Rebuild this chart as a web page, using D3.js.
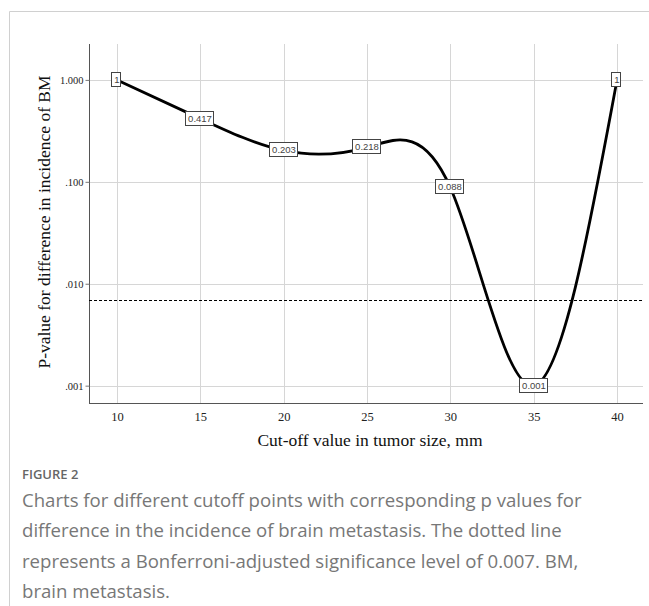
<!DOCTYPE html>
<html>
<head>
<meta charset="utf-8">
<script src="https://cdn.jsdelivr.net/npm/d3@7"></script>
<style>
    body { margin: 0; background: #fff; }
    svg { display: block; }
</style>
</head>
<body>
<svg width="649" height="606"></svg>
<script>
"use strict"

// cut-off values (mm) and their p-values
const cutoffs = [10, 15, 20, 25, 30, 35, 40]
const pValues = [1, 0.417, 0.203, 0.218, 0.088, 0.001, 1]
const pLabels = ["1", "0.417", "0.203", "0.218", "0.088", "0.001", "1"]

const xTicks = [10, 15, 20, 25, 30, 35, 40]
const yTicks = [1, 0.1, 0.01, 0.001]
const yTickLabels = ["1.000", ".100", ".010", ".001"]
const bonferroni = 0.007

const captionTitle = "FIGURE 2"
const captionLines = [
    "Charts for different cutoff points with corresponding p values for",
    "difference in the incidence of brain metastasis. The dotted line",
    "represents a Bonferroni-adjusted significance level of 0.007. BM,",
    "brain metastasis."
]

const SERIF = "'Liberation Serif', 'Times New Roman', serif"
const SANS = "'Liberation Sans', Arial, sans-serif"

const svg = d3.select("svg")

// outer figure frame (top + left only)
svg.append("path")
    .attr("d", "M9.5,606 V11.5 H649")
    .attr("fill", "none")
    .attr("stroke", "#d0d0d0")

const plotLeft = 89, plotRight = 643, plotTop = 44, plotBottom = 403

const x = d3.scaleLinear().domain([8.32, 41.56]).range([plotLeft, plotRight])
const y = d3.scaleLog().domain([0.000676, 2.25]).range([plotBottom, plotTop])

const data = cutoffs.map((c, i) => ({ x: c, p: pValues[i], label: pLabels[i] }))

// grid
const grid = svg.append("g").attr("stroke", "#d6d6d6").attr("stroke-width", 1)
grid.selectAll(".vg")
    .data(xTicks)
    .join("line")
    .attr("x1", (d) => Math.round(x(d)) + 0.5)
    .attr("x2", (d) => Math.round(x(d)) + 0.5)
    .attr("y1", plotTop)
    .attr("y2", plotBottom)
grid.selectAll(".hg")
    .data(yTicks)
    .join("line")
    .attr("x1", plotLeft)
    .attr("x2", plotRight)
    .attr("y1", (d) => Math.round(y(d)) + 0.5)
    .attr("y2", (d) => Math.round(y(d)) + 0.5)

// axes
const yAxis = d3.axisLeft(y)
    .tickValues(yTicks)
    .tickFormat((d, i) => yTickLabels[i])
    .tickSize(4)
    .tickPadding(2)
const gy = svg.append("g")
    .attr("transform", `translate(${plotLeft + 0.5},0)`)
    .call(yAxis)
gy.select(".domain").attr("d", `M0,${plotTop}V${plotBottom}`).attr("stroke", "#555")
gy.selectAll(".tick line").attr("stroke", "#777")
gy.selectAll(".tick text")
    .attr("font-family", SERIF)
    .attr("font-size", "10.5px")
    .attr("fill", "#222")

const xAxis = d3.axisBottom(x)
    .tickValues(xTicks)
    .tickSize(0)
    .tickPadding(9)
const gx = svg.append("g")
    .attr("transform", `translate(0,${plotBottom + 0.5})`)
    .call(xAxis)
gx.select(".domain").attr("d", `M${plotLeft},0H${plotRight}`).attr("stroke", "#555")
gx.selectAll(".tick text")
    .attr("font-family", SERIF)
    .attr("font-size", "12.5px")
    .attr("fill", "#222")

// axis titles
svg.append("text")
    .attr("transform", `translate(50,222) rotate(-90)`)
    .attr("text-anchor", "middle")
    .attr("font-family", SERIF)
    .attr("font-size", "17.5px")
    .attr("fill", "#111")
    .text("P-value for difference in incidence of BM")

svg.append("text")
    .attr("x", 370)
    .attr("y", 446)
    .attr("text-anchor", "middle")
    .attr("font-family", SERIF)
    .attr("font-size", "17.5px")
    .attr("fill", "#111")
    .text("Cut-off value in tumor size, mm")

// Bonferroni threshold
svg.append("line")
    .attr("x1", plotLeft)
    .attr("x2", plotRight)
    .attr("y1", Math.round(y(bonferroni)) + 0.5)
    .attr("y2", Math.round(y(bonferroni)) + 0.5)
    .attr("stroke", "#000")
    .attr("stroke-width", 1)
    .attr("stroke-dasharray", "3,2")

// spline
const line = d3.line()
    .x((d) => x(d.x))
    .y((d) => y(d.p))
    .curve(d3.curveNatural)

svg.append("path")
    .datum(data)
    .attr("d", line)
    .attr("fill", "none")
    .attr("stroke", "#000")
    .attr("stroke-width", 2.8)

// data labels
const labels = svg.selectAll(".lbl")
    .data(data)
    .join("g")
    .attr("class", "lbl")
    .attr("transform", (d) => `translate(${Math.round(x(d.x))},${Math.round(y(d.p))})`)

labels.append("text")
    .attr("text-anchor", "middle")
    .attr("dy", "0.35em")
    .attr("font-family", SANS)
    .attr("font-size", "9.5px")
    .attr("fill", "#444")
    .text((d) => d.label)

labels.each(function() {
    const g = d3.select(this)
    const w = g.select("text").node().getComputedTextLength() + 4
    g.insert("rect", "text")
        .attr("x", -Math.round(w / 2) - 0.5)
        .attr("y", -7.5)
        .attr("width", Math.round(w))
        .attr("height", 14)
        .attr("fill", "#fff")
        .attr("stroke", "#444")
        .attr("stroke-width", 1)
})

// caption
svg.append("text")
    .attr("x", 22)
    .attr("y", 479)
    .attr("font-family", "'Open Sans', sans-serif")
    .attr("font-size", "13px")
    .attr("font-weight", 600)
    .attr("fill", "#666")
    .text(captionTitle)

svg.append("g")
    .selectAll("text")
    .data(captionLines)
    .join("text")
    .attr("x", 22)
    .attr("y", (d, i) => 507 + i * 30.3)
    .attr("font-family", "'Open Sans', sans-serif")
    .attr("font-size", "18.6px")
    .attr("fill", "#777")
    .text((d) => d)
</script>
</body>
</html>
